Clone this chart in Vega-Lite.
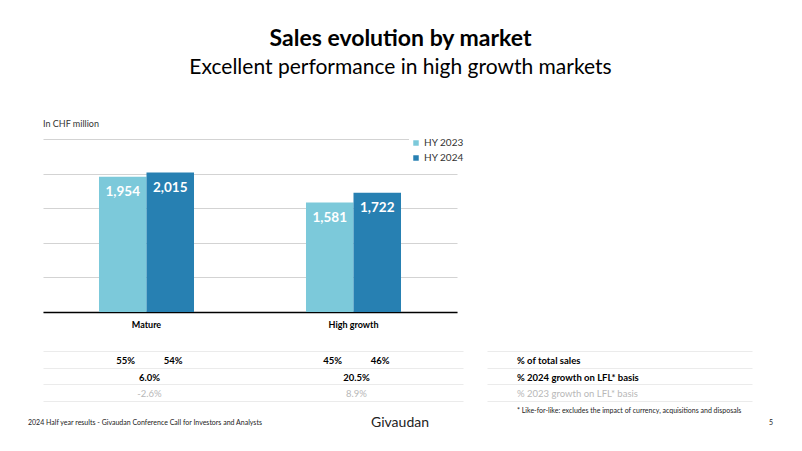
{
  "$schema": "https://vega.github.io/schema/vega-lite/v6.json",
  "background": "white",
  "padding": {"left": 28, "top": 28, "right": 0, "bottom": 0},
  "config": {
    "font": "Lato",
    "view": {"stroke": null}
  },
  "title": {
    "text": "Sales evolution by market",
    "subtitle": "Excellent performance in high growth markets",
    "anchor": "middle",
    "fontSize": 23,
    "fontWeight": "bold",
    "color": "#000000",
    "subtitleFontSize": 21,
    "subtitleFont": "Lato",
    "subtitleColor": "#000000",
    "subtitlePadding": 6,
    "offset": 42
  },
  "datasets": {
    "sales": [
      {"market": "Mature", "year": "HY 2023", "sales": 1954},
      {"market": "Mature", "year": "HY 2024", "sales": 2015},
      {"market": "High growth", "year": "HY 2023", "sales": 1581},
      {"market": "High growth", "year": "HY 2024", "sales": 1722}
    ],
    "table": [
      {"metric": "% of total sales", "market": "Mature", "year": "HY 2023", "value": "55%"},
      {"metric": "% of total sales", "market": "Mature", "year": "HY 2024", "value": "54%"},
      {"metric": "% of total sales", "market": "High growth", "year": "HY 2023", "value": "45%"},
      {"metric": "% of total sales", "market": "High growth", "year": "HY 2024", "value": "46%"},
      {"metric": "% 2024 growth on LFL* basis", "market": "Mature", "value": "6.0%"},
      {"metric": "% 2024 growth on LFL* basis", "market": "High growth", "value": "20.5%"},
      {"metric": "% 2023 growth on LFL* basis", "market": "Mature", "value": "-2.6%"},
      {"metric": "% 2023 growth on LFL* basis", "market": "High growth", "value": "8.9%"}
    ],
    "rows": [
      {"metric": "% of total sales"},
      {"metric": "% 2024 growth on LFL* basis"},
      {"metric": "% 2023 growth on LFL* basis"}
    ],
    "footer": [
      {"part": "left", "text": "2024 Half year results - Givaudan Conference Call for Investors and Analysts"},
      {"part": "logo", "text": "Givaudan"},
      {"part": "page", "text": "5"}
    ]
  },
  "spacing": 22,
  "vconcat": [
    {
      "width": 414,
      "height": 173,
      "title": {"text": "In CHF million", "anchor": "start", "fontSize": 9, "fontWeight": "normal", "color": "#333333", "offset": 10, "frame": "group"},
      "data": {"name": "sales"},
      "encoding": {
        "x": {
          "field": "market", "type": "nominal", "sort": ["Mature", "High growth"],
          "scale": {"paddingInner": 0.541, "paddingOuter": 0.2705},
          "axis": {"title": null, "labelAngle": 0, "labelFontWeight": "bold", "labelFontSize": 9, "labelColor": "#000000", "ticks": false, "domainColor": "#000000", "domainWidth": 1.5, "labelPadding": 8}
        },
        "xOffset": {"field": "year", "type": "nominal", "scale": {"paddingInner": 0, "paddingOuter": 0}},
        "y": {
          "field": "sales", "type": "quantitative",
          "scale": {"domain": [0, 2500]},
          "axis": {"title": null, "labels": false, "ticks": false, "domain": false, "values": [0, 500, 1000, 1500, 2000, 2500], "gridColor": "#d3d3d3"}
        }
      },
      "layer": [
        {
          "mark": {"type": "bar"},
          "encoding": {
            "color": {
              "field": "year", "type": "nominal",
              "scale": {"domain": ["HY 2023", "HY 2024"], "range": ["#7cc9da", "#2780b2"]},
              "legend": {"title": null, "orient": "none", "legendX": 366, "legendY": -3, "symbolType": "square", "symbolSize": 30, "labelFontSize": 10, "labelColor": "#333333", "fillColor": "white", "rowPadding": 5, "labelOffset": 3, "padding": 2}
            }
          }
        },
        {
          "mark": {"type": "text", "baseline": "alphabetic", "dy": 19, "color": "white", "fontSize": 13.5, "fontWeight": "bold"},
          "encoding": {"text": {"field": "sales", "type": "quantitative", "format": ","}}
        }
      ]
    },
    {
      "spacing": 2,
      "vconcat": [
        {
          "spacing": 24,
          "hconcat": [
            {
              "width": 420,
              "height": 50,
              "data": {"name": "table"},
              "encoding": {
                "x": {"field": "market", "type": "nominal", "sort": ["Mature", "High growth"], "scale": {"paddingInner": 0.541, "paddingOuter": 0.285, "align": 0.4746}, "axis": null},
                "y": {
                  "field": "metric", "type": "nominal",
                  "sort": ["% of total sales", "% 2024 growth on LFL* basis", "% 2023 growth on LFL* basis"],
                  "axis": {"title": null, "labels": false, "ticks": false, "domain": false, "grid": true, "tickBand": "extent", "gridColor": "#ebebeb"}
                }
              },
              "layer": [
                {
                  "transform": [{"filter": "datum.metric === '% of total sales'"}],
                  "mark": {"type": "text", "fontSize": 9.5, "fontWeight": "bold", "color": "#000000", "dx": 3, "dy": 1.5},
                  "encoding": {
                    "xOffset": {"field": "year", "type": "nominal", "scale": {"paddingInner": 0, "paddingOuter": 0}},
                    "text": {"field": "value"}
                  }
                },
                {
                  "transform": [{"filter": "datum.metric === '% 2024 growth on LFL* basis'"}],
                  "mark": {"type": "text", "fontSize": 9.5, "fontWeight": "bold", "color": "#000000", "dx": 3, "dy": 1.5},
                  "encoding": {"text": {"field": "value"}}
                },
                {
                  "transform": [{"filter": "datum.metric === '% 2023 growth on LFL* basis'"}],
                  "mark": {"type": "text", "fontSize": 9.5, "fontWeight": "normal", "color": "#b8b8b8", "dx": 3, "dy": 1.5},
                  "encoding": {"text": {"field": "value"}}
                }
              ]
            },
            {
              "width": 265,
              "height": 50,
              "data": {"name": "rows"},
              "title": {"text": "* Like-for-like: excludes the impact of currency, acquisitions and disposals", "orient": "bottom", "anchor": "start", "dx": 30, "fontSize": 7, "fontWeight": "normal", "color": "#222222", "offset": 6},
              "encoding": {
                "y": {
                  "field": "metric", "type": "nominal",
                  "sort": ["% of total sales", "% 2024 growth on LFL* basis", "% 2023 growth on LFL* basis"],
                  "axis": {"title": null, "labels": false, "ticks": false, "domain": false, "grid": true, "tickBand": "extent", "gridColor": "#ebebeb"}
                }
              },
              "layer": [
                {
                  "transform": [{"filter": "datum.metric !== '% 2023 growth on LFL* basis'"}],
                  "mark": {"type": "text", "align": "left", "dx": -102.5, "dy": 1.5, "fontSize": 9.5, "fontWeight": "bold", "color": "#000000"},
                  "encoding": {"text": {"field": "metric"}}
                },
                {
                  "transform": [{"filter": "datum.metric === '% 2023 growth on LFL* basis'"}],
                  "mark": {"type": "text", "align": "left", "dx": -102.5, "dy": 1.5, "fontSize": 9.5, "fontWeight": "normal", "color": "#b8b8b8"},
                  "encoding": {"text": {"field": "metric"}}
                }
              ]
            }
          ]
        },
        {
          "width": 728,
          "height": 12,
          "data": {"name": "footer"},
          "encoding": {
            "x": {"field": "part", "type": "nominal", "sort": ["left", "logo", "page"], "scale": {"type": "point", "padding": 0}, "axis": null},
            "text": {"field": "text"}
          },
          "layer": [
            {
              "transform": [{"filter": "datum.part === 'left'"}],
              "mark": {"type": "text", "align": "left", "dx": -15, "fontSize": 7, "color": "#222222"}
            },
            {
              "transform": [{"filter": "datum.part === 'logo'"}],
              "mark": {"type": "text", "align": "center", "dx": -7, "fontSize": 14, "color": "#222222"}
            },
            {
              "transform": [{"filter": "datum.part === 'page'"}],
              "mark": {"type": "text", "align": "center", "fontSize": 7, "color": "#222222"}
            }
          ]
        }
      ]
    }
  ]
}
